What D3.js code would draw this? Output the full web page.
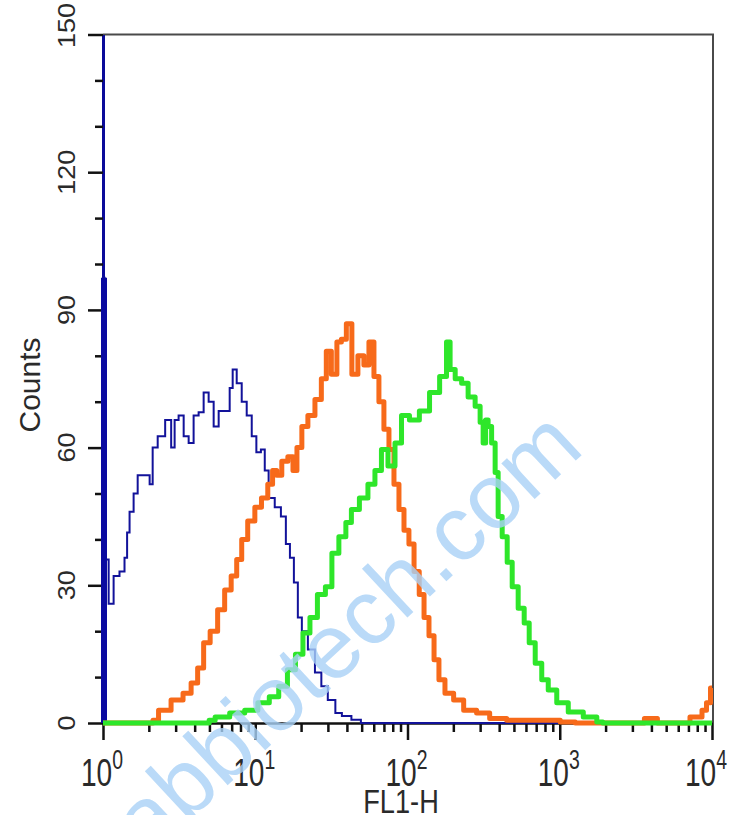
<!DOCTYPE html>
<html><head><meta charset="utf-8">
<script src="https://cdn.jsdelivr.net/npm/d3@7"></script>
<style>body{margin:0;background:#fff}svg{display:block}text{font-family:"Liberation Sans",Arial,sans-serif;fill:#2a2a2a}</style>
</head><body><svg id="c" width="736" height="815"></svg>
<script>
// ---- data ----
const xMajorTicks = [1, 10, 100, 1000, 10000];
const xExponents = ["0", "1", "2", "3", "4"];
const yMajorTicks = [0, 30, 60, 90, 120, 150];
const yMinorStep = 10;
const xLabel = "FL1-H";
const yLabel = "Counts";
const watermark = "abbiotech.com";

// first channel (off-scale) of the blue histogram
const blueFirst = [[1, 0], [1, 97]];
// [FL1-H, count]
const blue = [[1.0,97],[1.05,35.6],[1.13,26],[1.22,32],[1.35,33],[1.42,36],[1.46,41.5],[1.53,46],[1.65,50],[1.73,54],[1.98,54],[2.07,52],[2.17,60],[2.41,62.5],[2.72,66],[2.89,60],[3.02,66],[3.26,67],[3.52,62.5],[3.79,61],[4.09,67],[4.41,67.7],[4.76,72],[5.13,70],[5.54,64.6],[5.97,68],[6.64,68],[6.95,73],[7.27,77],[7.85,74],[8.46,70],[9.13,67],[9.85,62.5],[10.5,59],[11.3,59.6],[11.8,55],[12.7,49],[14.2,47],[15.3,45],[16.5,39],[17.3,36],[18.6,30.6],[19.5,23],[21.0,20],[23.4,16],[26.0,11],[28.4,8],[31.6,5],[35.7,2.2],[38.5,1.5],[47.6,0.7],[51.3,0],[10000,0]];
const orange = [[1,0],[2.13,0],[2.13,0.6],[2.52,2.8],[3.11,5],[3.62,6.5],[3.97,8.7],[4.41,12],[4.76,17.5],[5.37,20],[5.97,24.7],[6.64,29],[7.27,32],[7.85,35.6],[8.46,40],[9.41,44],[10.5,47],[11.5,49],[12.7,52],[13.3,55],[14.4,54],[15.5,57],[17.3,58],[18.1,55],[19.5,60],[21.0,64.6],[23.4,67],[26.0,70.5],[28.4,75],[30.2,81],[33.1,76],[35.7,83],[37.9,83.6],[41.5,87],[44.8,76],[49.8,80],[53.7,78],[58.0,83],[62.5,75.5],[67.4,70],[72.7,64],[78.5,59.6],[84.6,52],[91.3,46.5],[98.5,42],[106,39],[115,33],[124,28],[133,23],[144,19],[155,13.8],[167,9.4],[186,6.5],[217,5],[252,2.8],[321,2.2],[374,1],[537,0.6],[886,0.6],[1146,0.2],[1396,0],[3464,0],[3736,1],[4217,1],[4550,0],[6955,0],[7387,1.3],[8340,1.3],[8861,2.8],[9557,4.4],[10000,7.6]];
const green = [[1,0],[4.98,0],[4.98,0.6],[5.97,1.3],[7.73,2.2],[9.41,2.8],[11.5,4.4],[13.3,5.7],[15.3,8],[17.3,11.6],[19.5,15],[21.7,19.6],[24.1,23],[27.2,28],[30.7,29.7],[33.1,37],[37.9,40.6],[40.9,43.7],[44.8,46.5],[52.1,49],[58.0,52],[64.4,55],[70.6,59.6],[78.5,56],[87.3,61],[95.6,67],[111,66],[129,68],[151,72],[175,75.5],[186,83],[195,77],[217,75],[237,74],[264,71],[293,69],[307,65.5],[321,61],[331,66],[346,64.6],[368,61],[385,54.6],[403,45],[435,40.6],[469,35],[506,29.7],[562,25],[607,21.8],[654,17.5],[728,13],[797,9.4],[886,7.2],[1031,4.4],[1255,2.4],[1624,1.3],[1889,0.2],[1950,0],[10000,0]];

// ---- layout ----
const svg = d3.select("#c");
const L = 103, R = 712, T = 34.5, B = 723;
const x = d3.scaleLog().domain([1, 10000]).range([L, R]);
const y = d3.scaleLinear().domain([0, 150]).range([B, T]);

svg.append("rect").attr("width", 736).attr("height", 815).attr("fill", "#fff");

// frame (top/right)
svg.append("path").attr("d", `M${L},${T}H${R + 1}V${B}`).attr("fill", "none").attr("stroke", "#4a4a4a").attr("stroke-width", 2);

const xAllTicks = [];
for (let d = 0; d < 4; d++) for (let k = 1; k <= 9; k++) xAllTicks.push(k * Math.pow(10, d));
xAllTicks.push(10000);
const yAllTicks = d3.range(0, 151, yMinorStep);

// x axis
const gx = svg.append("g").attr("transform", `translate(0,${B})`)
  .call(d3.axisBottom(x).tickValues(xAllTicks).tickFormat("").tickSizeOuter(0));
gx.select(".domain").attr("stroke", "#111").attr("stroke-width", 2.5);
gx.selectAll(".tick line").attr("stroke", "#111").attr("stroke-width", 2.5)
  .attr("y2", d => xMajorTicks.includes(d) ? 17 : 9);

// y axis
const gy = svg.append("g").attr("transform", `translate(${L},0)`)
  .call(d3.axisLeft(y).tickValues(yAllTicks).tickFormat("").tickSizeOuter(0));
gy.select(".domain").attr("stroke", "#0a0a9a").attr("stroke-width", 3);
gy.selectAll(".tick line").attr("stroke", "#111").attr("stroke-width", 2.5)
  .attr("x2", d => yMajorTicks.includes(d) ? -15 : -8);

// x tick labels with superscripts (narrow, tall glyphs)
const xl = svg.append("g");
xMajorTicks.forEach((v, i) => {
  const last = i === xMajorTicks.length - 1;
  const cx = last ? 727 : x(v) - 1;
  const t = xl.append("text").attr("transform", `translate(${cx},786) scale(0.72,1)`)
    .attr("text-anchor", last ? "end" : "middle").attr("font-size", 39);
  t.append("tspan").text("10");
  t.append("tspan").attr("dy", -17).attr("font-size", 27).text(xExponents[i]);
});
// y tick labels rotated
yMajorTicks.forEach(v => {
  const yy = v === 150 ? y(v) - 9 : y(v);
  svg.append("text").attr("transform", `translate(75,${yy}) scale(0.88,1) rotate(-90)`)
    .attr("text-anchor", "middle").attr("font-size", 27).text(v);
});
svg.append("text").attr("transform", `translate(401,813) scale(0.8,1)`).attr("text-anchor", "middle").attr("font-size", 34).text(xLabel);
svg.append("text").attr("transform", `translate(40,385) rotate(-90)`).attr("text-anchor", "middle").attr("font-size", 30).text(yLabel);

// series
const line = d3.line().x(d => x(d[0])).y(d => y(d[1])).curve(d3.curveStep);
const plot = svg.append("g");
plot.append("path").datum(blue).attr("d", line).attr("fill", "none").attr("stroke", "#12129a").attr("stroke-width", 2);
plot.append("path").datum(blueFirst).attr("d", d3.line().x(d => x(d[0]) + 1).y(d => y(d[1]))).attr("fill", "none").attr("stroke", "#0a0aa0").attr("stroke-width", 6);
plot.append("path").datum(orange).attr("d", line).attr("fill", "none").attr("stroke", "#f76a1a").attr("stroke-width", 5).attr("stroke-linejoin", "round");
plot.append("path").datum(green).attr("d", line).attr("fill", "none").attr("stroke", "#2ee62a").attr("stroke-width", 5).attr("stroke-linejoin", "round");

// watermark
svg.append("text").attr("transform", "translate(586,451) rotate(-43)")
  .attr("text-anchor", "end").attr("font-size", 92).style("fill", "#a9d2f7").attr("opacity", 0.8).text(watermark);
</script></body></html>
